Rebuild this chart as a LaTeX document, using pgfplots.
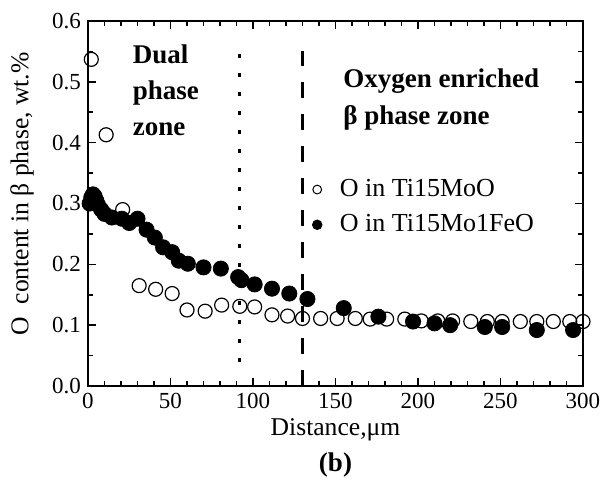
\documentclass[border=0pt]{standalone}
\usepackage{fontspec}
\setmainfont{Liberation Serif}
\usepackage{pgfplots}
\pgfplotsset{compat=1.18}

\begin{document}
\begin{tikzpicture}
\useasboundingbox (-44pt,-46.5pt) rectangle (256.5pt,193pt);
\begin{axis}[at={(0,0)}, anchor=south west, scale only axis,
  width=247.5pt, height=182.5pt,
  xmin=0, xmax=300, ymin=0, ymax=0.6,
  xtick={0,50,...,300}, minor x tick num=4,
  ytick={0,0.1,0.2,0.3,0.4,0.5,0.6}, minor y tick num=1,
  tick align=inside, major tick length=4pt, minor tick length=2.5pt,
  axis line style={line width=1pt}, every tick/.style={line width=0.8pt, black},
  /pgf/number format/assume math mode=true,
  tick label style={font=\fontsize{11.5}{13}\selectfont},
  yticklabel style={/pgf/number format/fixed, /pgf/number format/precision=1, /pgf/number format/fixed zerofill},
  scaled y ticks=false,
  xlabel={Distance,μm}, ylabel={O\ \ content in β phase, wt.\%},
  label style={font=\fontsize{12.8}{14}\selectfont},
  xlabel style={at={(axis description cs:0.5,-0.12)}, anchor=center},
  ylabel style={at={(axis description cs:-0.133,0.526)}, anchor=center},
  clip=false,
  legend style={at={(rel axis cs:0.45,0.578)}, anchor=north west, draw=none, fill=none,
    font=\fontsize{13}{15}\selectfont, row sep=3.5pt, inner sep=0pt},
  legend cell align=left,
  legend image code/.code={\path (0cm,0cm) (0.42cm,0cm); \draw[#1] plot coordinates {(0.1cm,0cm)};},
]
% open circles: Ti15MoO
\addplot[only marks, mark=o, mark size=3.5pt, mark options={line width=0.6pt}, forget plot] coordinates {
(2,0.537) (11,0.413) (21,0.290) (31,0.165) (41,0.159) (51,0.152) (60,0.125) (71,0.123)
(81,0.133) (92,0.131) (101,0.130) (111.5,0.117) (121,0.115) (130,0.111) (141,0.111)
(151,0.111) (162,0.111) (171,0.110) (181,0.110) (192,0.110) (202,0.107) (212,0.107)
(221,0.107) (232,0.106) (242,0.106) (251,0.106) (262,0.106) (272,0.106) (282,0.106)
(292,0.106) (300,0.106)};
% filled circles: Ti15Mo1FeO
\addplot[only marks, mark=*, mark size=3.8pt, forget plot] coordinates {
(1,0.300) (2,0.310) (3,0.315) (4,0.312) (5,0.305) (6,0.298) (8,0.290) (10,0.283)
(14.5,0.277) (20.5,0.275) (25,0.268) (30,0.275) (35.5,0.257) (40.5,0.244) (45.5,0.228)
(51,0.220) (55,0.206) (60.5,0.201) (70,0.195) (80.5,0.193) (91,0.179) (93,0.174)
(101,0.167) (111.5,0.160) (122,0.152) (133,0.143) (155,0.128) (176,0.114) (197,0.106)
(210,0.103) (219.5,0.100) (240.5,0.097) (251,0.097) (272,0.092) (294,0.092)};
% zone boundaries
\addplot[black, line width=1.5pt, dash pattern=on 2pt off 7.5pt, forget plot] coordinates {(92,0.04) (92,0.567)};
\addplot[black, line width=1.6pt, dash pattern=on 8pt off 8pt, forget plot] coordinates {(130,0) (130,0.55)};
\addlegendimage{only marks, mark=o, mark size=2.2pt, mark options={line width=0.5pt}}
\addlegendentry{O in Ti15MoO}
\addlegendimage{only marks, mark=*, mark size=2.4pt}
\addlegendentry{O in Ti15Mo1FeO}
\node[anchor=west, align=left, font=\fontsize{13.5}{18}\selectfont\bfseries, inner sep=0pt] at (axis cs:27,0.486) {Dual\\phase\\zone};
\node[anchor=west, align=left, font=\fontsize{13.5}{18.5}\selectfont\bfseries, inner sep=0pt] at (axis cs:154.5,0.471) {Oxygen enriched\\β phase zone};
\node[font=\fontsize{13.5}{15}\selectfont\bfseries] at (axis description cs:0.5,-0.216) {(b)};
\end{axis}
\end{tikzpicture}
\end{document}
